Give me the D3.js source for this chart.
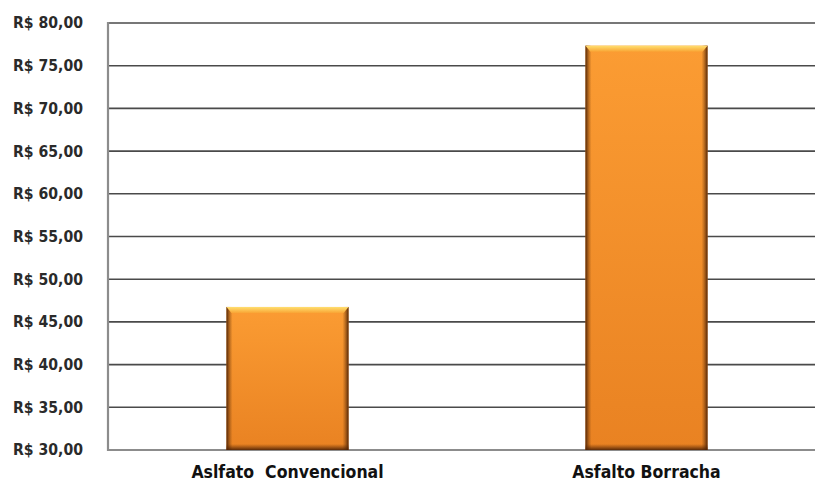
<!DOCTYPE html>
<html><head><meta charset="utf-8">
<script src="https://cdn.jsdelivr.net/npm/d3@7"></script>
<style>body{margin:0;background:#fff}svg{display:block}</style>
</head><body>
<svg id="c" width="815" height="487"></svg>
<script>
const categories = ["Aslfato  Convencional", "Asfalto Borracha"];
const values = [46.75, 77.35];
const yTicks = [30, 35, 40, 45, 50, 55, 60, 65, 70, 75, 80];
const fmt = v => "R$ " + v.toFixed(2).replace(".", ",");

const svg = d3.select("#c");
const x0 = 108, x1 = 826, yTop = 23, yBot = 450;
const x = d3.scaleBand().domain(categories).range([x0, x1]).paddingInner(0.66).paddingOuter(0.33);
const y = d3.scaleLinear().domain([30, 80]).range([yBot, yTop]);

const defs = svg.append("defs");
const gv = defs.append("linearGradient").attr("id","gv").attr("x1",0).attr("y1",0).attr("x2",0).attr("y2",1);
gv.append("stop").attr("offset","0%").attr("stop-color","#FB9C33");
gv.append("stop").attr("offset","100%").attr("stop-color","#E98222");
const gh = defs.append("linearGradient").attr("id","gh").attr("x1",0).attr("y1",0).attr("x2",1).attr("y2",0);
gh.append("stop").attr("offset","0%").attr("stop-color","#4a2005").attr("stop-opacity",0.95);
gh.append("stop").attr("offset","5%").attr("stop-color","#8a4a10").attr("stop-opacity",0);
gh.append("stop").attr("offset","95%").attr("stop-color","#8a4a10").attr("stop-opacity",0);
gh.append("stop").attr("offset","100%").attr("stop-color","#4a2005").attr("stop-opacity",0.95);
const gt = defs.append("linearGradient").attr("id","gt").attr("x1",0).attr("y1",0).attr("x2",0).attr("y2",1);
gt.append("stop").attr("offset","0%").attr("stop-color","#FFE070");
gt.append("stop").attr("offset","100%").attr("stop-color","#F9A535");
const gb = defs.append("linearGradient").attr("id","gb").attr("x1",0).attr("y1",0).attr("x2",0).attr("y2",1);
gb.append("stop").attr("offset","0%").attr("stop-color","#6a3005").attr("stop-opacity",0);
gb.append("stop").attr("offset","100%").attr("stop-color","#4a2005").attr("stop-opacity",0.9);

svg.append("g").selectAll("line").data(yTicks.filter(t => t > 30)).join("line")
  .attr("x1", x0).attr("x2", 815).attr("y1", d => y(d)).attr("y2", d => y(d))
  .attr("stroke", "#4a4a4a").attr("stroke-width", 1.6);
svg.append("line").attr("x1", x0).attr("x2", 815).attr("y1", y(30)).attr("y2", y(30))
  .attr("stroke", "#8c8c8c").attr("stroke-width", 2.2);
svg.append("line").attr("x1", x0).attr("x2", x0).attr("y1", y(80) - 1).attr("y2", y(30) + 1)
  .attr("stroke", "#8c8c8c").attr("stroke-width", 2.2);

svg.append("g").selectAll("text").data(yTicks).join("text")
  .attr("x", 13).attr("y", d => y(d)).attr("dy", "0.35em")
  .attr("font-family", "'DejaVu Sans Condensed', 'DejaVu Sans', sans-serif")
  .attr("font-weight", "bold").attr("font-size", 15.5).attr("fill", "#2a2a2a")
  .attr("textLength", 70).attr("lengthAdjust", "spacingAndGlyphs")
  .text(fmt);

const bars = svg.append("g").selectAll("g").data(categories).join("g");
const bw = x.bandwidth();
bars.append("rect").attr("x", d => x(d)).attr("width", bw)
  .attr("y", (d,i) => y(values[i])).attr("height", (d,i) => y(30) - y(values[i]))
  .attr("fill", "url(#gv)");
bars.append("rect").attr("x", d => x(d)).attr("width", bw)
  .attr("y", (d,i) => y(values[i])).attr("height", (d,i) => y(30) - y(values[i]))
  .attr("fill", "url(#gh)");
bars.append("rect").attr("x", d => x(d)).attr("width", bw)
  .attr("y", (d,i) => y(30) - 6).attr("height", 6)
  .attr("fill", "url(#gb)");
bars.append("path")
  .attr("d", (d,i) => {
    const l = x(d), r = l + bw, t = y(values[i]);
    return `M${l},${t} L${r},${t} L${r-5},${t+6} L${l+5},${t+6} Z`;
  })
  .attr("fill", "url(#gt)");

svg.append("g").selectAll("text").data(categories).join("text")
  .attr("x", d => x(d) + bw / 2).attr("y", 478)
  .attr("text-anchor", "middle")
  .attr("font-family", "'DejaVu Sans Condensed', 'DejaVu Sans', sans-serif")
  .attr("font-weight", "bold").attr("font-size", 17.5).attr("fill", "#111")
  .style("white-space", "pre")
  .text(d => d);
</script>
</body></html>
